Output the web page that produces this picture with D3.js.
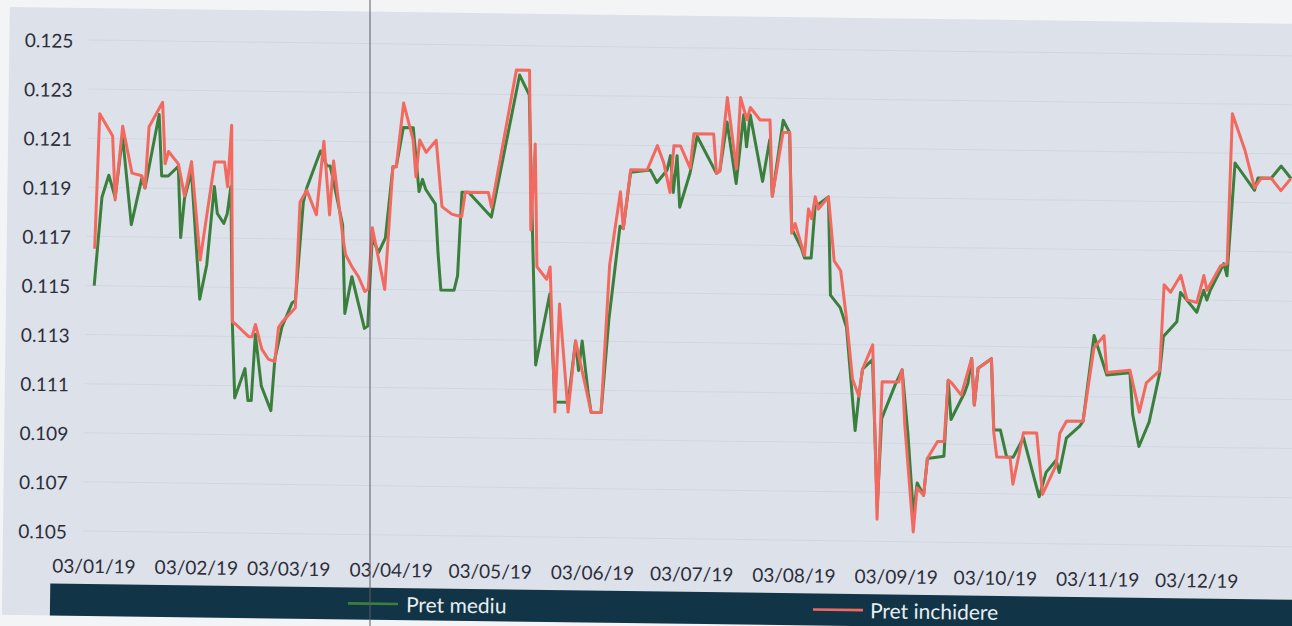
<!DOCTYPE html>
<meta charset="utf-8">
<style>
body { margin: 0; background: #f3f4f6; }
svg { display: block; font-family: Lato, "Open Sans", sans-serif; }
</style>
<svg width="1292" height="626"></svg>
<script src="https://d3js.org/d3.v7.min.js"></script>
<script>

// luna/zi din 2019
var xTickDates = ["01-03","02-03","03-03","04-03","05-03","06-03","07-03","08-03","09-03","10-03","11-03","12-03"];
var yTicks = [0.105, 0.107, 0.109, 0.111, 0.113, 0.115, 0.117, 0.119, 0.121, 0.123, 0.125];

var mediuDates = [
  "01-03","01-05","01-07","01-09","01-11","01-14","01-17","01-18","01-22","01-23",
  "01-25","01-28","01-29","01-30","02-01","02-04","02-06","02-08","02-09","02-11",
  "02-12","02-13","02-14","02-15","02-18","02-19","02-20","02-21","02-23","02-26",
  "02-27","03-01","03-04","03-05","03-07","03-08","03-12","03-14","03-15","03-19",
  "03-20","03-22","03-26","03-27","03-28","03-30","04-01","04-03","04-04","04-06",
  "04-09","04-11","04-12","04-13","04-16","04-17","04-18","04-22","04-23","04-24",
  "04-26","05-03","05-11","05-14","05-17","05-21","05-23","05-27","05-29","05-30",
  "05-31","06-02","06-03","06-06","06-08","06-11","06-12","06-14","06-20","06-22",
  "06-25","06-26","06-27","06-28","06-29","07-02","07-04","07-10","07-11","07-13",
  "07-16","07-18","07-19","07-20","07-24","07-26","07-27","07-30","08-01","08-02",
  "08-05","08-06","08-08","08-09","08-13","08-14","08-17","08-19","08-22","08-23",
  "08-24","08-27","08-29","08-30","09-03","09-05","09-07","09-09","09-10","09-12",
  "09-13","09-18","09-19","09-20","09-24","09-25","09-26","09-27","09-28","10-02",
  "10-03","10-05","10-07","10-09","10-12","10-17","10-19","10-22","10-23","10-25",
  "10-29","10-30","11-02","11-06","11-13","11-14","11-16","11-19","11-22","11-23",
  "11-27","11-28","12-03","12-05","12-06","12-07","12-11","12-12","12-14","12-20",
  "12-21","12-25","12-28","12-31"];
var mediuValues = [
  .1150,.1186,.1195,.1186,.1211,.1175,.1194,.1190,.1220,.1195,
  .1195,.1199,.1170,.1186,.1197,.1145,.1159,.1191,.1180,.1176,
  .1180,.1191,.1135,.1105,.1117,.1104,.1104,.1131,.1110,.1100,
  .1121,.1134,.1144,.1145,.1185,.1191,.1206,.1200,.1200,.1176,
  .1140,.1155,.1134,.1135,.1171,.1165,.1171,.1200,.1200,.1216,
  .1216,.1190,.1195,.1191,.1185,.1165,.1150,.1150,.1156,.1190,
  .1190,.1180,.1238,.1230,.1120,.1149,.1105,.1105,.1130,.1118,
  .1130,.1109,.1101,.1101,.1139,.1177,.1176,.1199,.1200,.1195,
  .1200,.1206,.1191,.1206,.1185,.1199,.1214,.1199,.1200,.1220,
  .1195,.1223,.1210,.1223,.1196,.1213,.1190,.1221,.1216,.1177,
  .1169,.1165,.1165,.1186,.1190,.1150,.1145,.1137,.1095,.1109,
  .1120,.1124,.1064,.1100,.1114,.1120,.1094,.1061,.1074,.1069,
  .1084,.1085,.1116,.1100,.1111,.1115,.1125,.1106,.1121,.1125,
  .1096,.1096,.1085,.1085,.1093,.1069,.1079,.1084,.1079,.1093,
  .1098,.1100,.1135,.1119,.1120,.1103,.1090,.1100,.1120,.1135,
  .1141,.1153,.1145,.1154,.1150,.1154,.1165,.1160,.1206,.1195,
  .1200,.1200,.1205,.1200];

var inchDates = [
  "01-03","01-04","01-08","01-09","01-11","01-14","01-17","01-18","01-19","01-23",
  "01-24","01-25","01-28","01-30","02-01","02-04","02-07","02-08","02-11","02-12",
  "02-13","02-14","02-15","02-19","02-20","02-21","02-23","02-25","02-27","02-28",
  "03-01","03-05","03-06","03-08","03-11","03-13","03-15","03-16","03-19","03-20",
  "03-22","03-24","03-26","03-27","03-28","04-01","04-03","04-04","04-06","04-09",
  "04-10","04-11","04-13","04-16","04-18","04-21","04-24","04-25","05-02","05-03",
  "05-10","05-14","05-15","05-16","05-17","05-20","05-21","05-23","05-24","05-27",
  "05-29","06-03","06-06","06-08","06-11","06-12","06-14","06-19","06-22","06-24",
  "06-26","06-27","06-29","07-02","07-03","07-09","07-10","07-11","07-13","07-16",
  "07-17","07-19","07-20","07-23","07-26","07-27","07-30","08-01","08-02","08-03",
  "08-06","08-07","08-08","08-09","08-10","08-13","08-15","08-17","08-19","08-21",
  "08-23","08-24","08-27","08-29","08-30","09-04","09-05","09-06","09-09","09-10",
  "09-12","09-13","09-16","09-18","09-19","09-20","09-23","09-26","09-27","09-28",
  "10-02","10-03","10-04","10-08","10-09","10-12","10-16","10-18","10-22","10-23",
  "10-25","10-30","11-02","11-05","11-06","11-13","11-16","11-18","11-22","11-23",
  "11-25","11-28","11-30","12-03","12-05","12-06","12-10","12-12","12-13","12-17",
  "12-20","12-22","12-25","12-28","12-31"];
var inchValues = [
  .1165,.1220,.1211,.1185,.1215,.1196,.1195,.1190,.1215,.1225,
  .1200,.1205,.1200,.1187,.1201,.1161,.1191,.1201,.1201,.1191,
  .1216,.1136,.1135,.1130,.1130,.1135,.1125,.1121,.1120,.1134,
  .1136,.1142,.1185,.1190,.1180,.1210,.1180,.1202,.1172,.1164,
  .1159,.1155,.1149,.1150,.1175,.1150,.1200,.1200,.1226,.1211,
  .1196,.1211,.1206,.1211,.1184,.1181,.1180,.1190,.1190,.1184,
  .1240,.1240,.1175,.1210,.1160,.1155,.1160,.1101,.1145,.1101,
  .1130,.1101,.1101,.1161,.1191,.1176,.1200,.1200,.1210,.1203,
  .1191,.1210,.1210,.1201,.1215,.1215,.1199,.1200,.1230,.1201,
  .1230,.1221,.1226,.1221,.1221,.1190,.1216,.1216,.1175,.1179,
  .1166,.1185,.1181,.1190,.1185,.1190,.1164,.1160,.1140,.1116,
  .1109,.1120,.1130,.1059,.1115,.1115,.1120,.1098,.1054,.1072,
  .1069,.1084,.1091,.1091,.1116,.1115,.1110,.1125,.1106,.1121,
  .1125,.1095,.1085,.1085,.1074,.1095,.1095,.1070,.1082,.1095,
  .1100,.1100,.1130,.1135,.1120,.1121,.1104,.1116,.1121,.1156,
  .1153,.1160,.1150,.1149,.1160,.1154,.1164,.1165,.1226,.1211,
  .1196,.1200,.1200,.1195,.1200];

if (mediuDates.length != mediuValues.length || inchDates.length != inchValues.length)
  throw new Error("date/valori: lungimi diferite");

var parseData = d3.timeParse("%Y-%m-%d");
function zi(s) { return parseData("2019-" + s); }

var serii = [
  {nume: "Pret mediu", culoare: "#3b7f3d", puncte: mediuDates.map((d, i) => ({data: zi(d), val: mediuValues[i]}))},
  {nume: "Pret inchidere", culoare: "#f26a5f", puncte: inchDates.map((d, i) => ({data: zi(d), val: inchValues[i]}))}
];

var svg = d3.select("svg");

// scanarea e putin rotita, asa ca rotim tot graficul
var g = svg.append("g").attr("transform", "rotate(0.75 90 300)");

g.append("rect")
    .attr("x", 6).attr("y", 8)
    .attr("width", 1420).attr("height", 608)
    .attr("fill", "#dde1ea");

var x = d3.scaleTime()
    .domain([zi("01-03"), zi("12-31")])
    .range([94, 1289.3]);

var y = d3.scaleLinear()
    .domain([0.105, 0.125])
    .range([531, 40]);

// linii de grila
g.append("g")
  .selectAll("line")
  .data(yTicks)
  .join("line")
    .attr("x1", 86).attr("x2", 1420)
    .attr("y1", d => y(d)).attr("y2", d => y(d))
    .attr("stroke", "#d2d6e0")
    .attr("stroke-width", 1);

// etichete axa y
g.append("g")
  .selectAll("text")
  .data(yTicks)
  .join("text")
    .attr("x", 70)
    .attr("y", d => y(d) + 8)
    .attr("text-anchor", "end")
    .attr("font-size", 19)
    .attr("fill", "#2c2e3a")
    .text(d => d3.format(".3f")(d));

// etichete axa x
var fmt = d3.timeFormat("%d/%m/%y");
g.append("g")
  .selectAll("text")
  .data(xTickDates.map(zi))
  .join("text")
    .attr("x", d => x(d) + 3.5)
    .attr("y", 573)
    .attr("text-anchor", "middle")
    .attr("font-size", 19)
    .attr("fill", "#2c2e3a")
    .text(d => fmt(d));

var linie = d3.line()
    .x(d => x(d.data))
    .y(d => y(d.val));

g.append("g")
  .selectAll("path")
  .data(serii)
  .join("path")
    .attr("d", d => linie(d.puncte))
    .attr("fill", "none")
    .attr("stroke", d => d.culoare)
    .attr("stroke-width", 3)
    .attr("stroke-linejoin", "round");

// banda legendei
g.append("rect")
    .attr("x", 54).attr("y", 584)
    .attr("width", 1400).attr("height", 32)
    .attr("fill", "#113447");

var pozLegenda = [{x: 352, tx: 410}, {x: 817, tx: 874}];
var leg = g.append("g")
  .selectAll("g")
  .data(serii)
  .join("g");

leg.append("line")
    .attr("x1", (d, i) => pozLegenda[i].x)
    .attr("x2", (d, i) => pozLegenda[i].x + 50)
    .attr("y1", 600).attr("y2", 600)
    .attr("stroke", d => d.culoare)
    .attr("stroke-width", 2.6);

leg.append("text")
    .attr("x", (d, i) => pozLegenda[i].tx)
    .attr("y", 608)
    .attr("font-size", 21)
    .attr("fill", "#e8eef1")
    .text(d => d.nume);

// linia verticala din scanare
svg.append("line")
    .attr("x1", 370).attr("x2", 370)
    .attr("y1", 0).attr("y2", 626)
    .attr("stroke", "#5a5d66")
    .attr("stroke-width", 1);

</script>
